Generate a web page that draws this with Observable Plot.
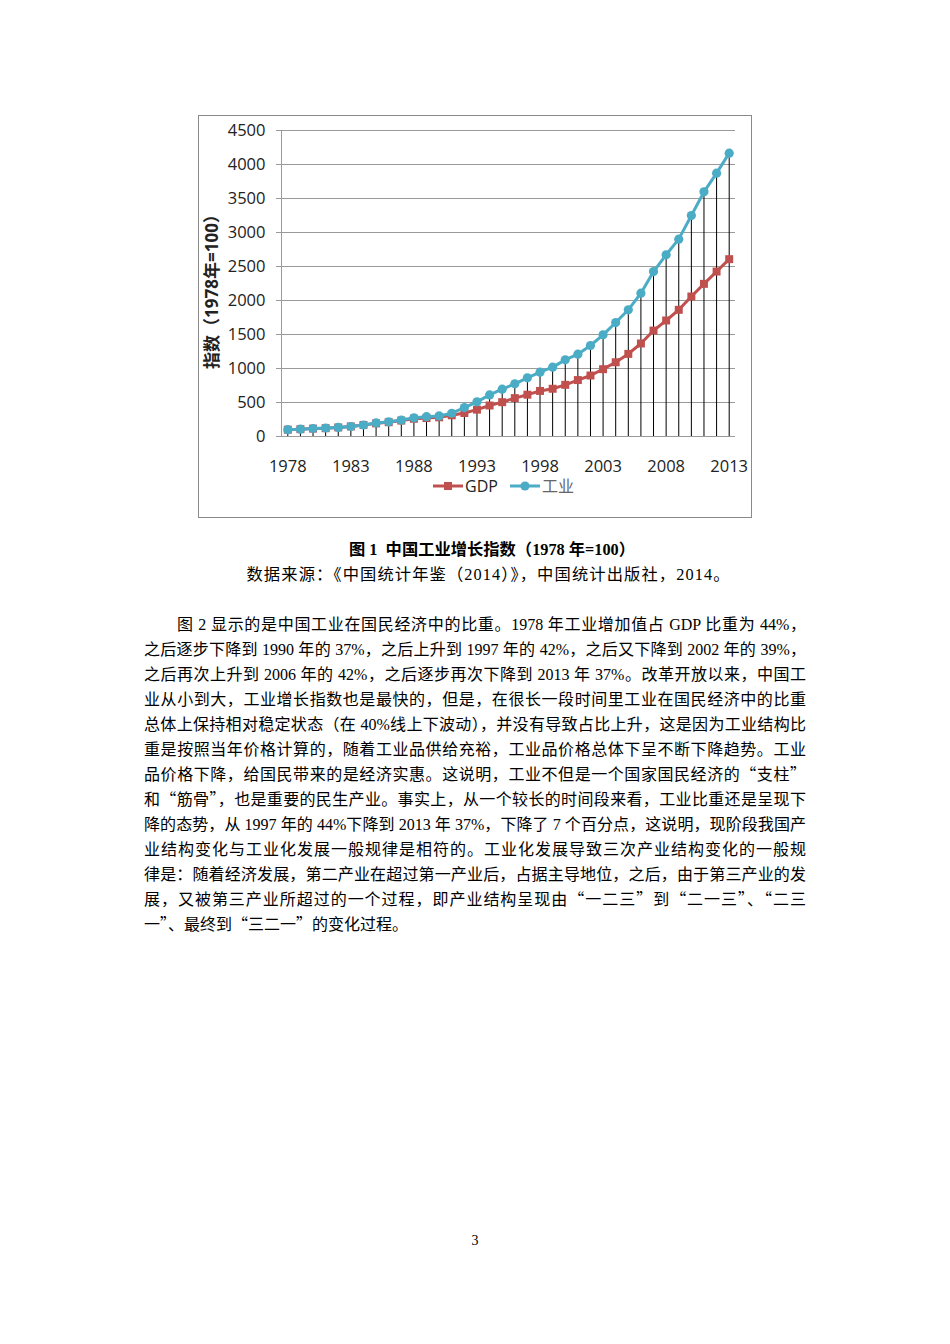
<!DOCTYPE html>
<html>
<head>
<meta charset="utf-8">
<script src="https://cdn.jsdelivr.net/npm/d3@7"></script>
<script src="https://cdn.jsdelivr.net/npm/@observablehq/plot@0.6"></script>
<style>
  html, body { margin: 0; padding: 0; background: #fff; }
  body { width: 950px; height: 1344px; position: relative; overflow: hidden; }
  .abs { position: absolute; }
  #box { left: 198px; top: 115px; width: 554px; height: 403px; box-sizing: border-box; border: 1px solid #8a8a8a; }
  #chart { left: 198px; top: 115px; width: 554px; height: 403px; }
  .leg { font-family: 'Open Sans', 'Noto Sans CJK SC', sans-serif; font-size: 16px; line-height: 16px; white-space: nowrap; }
  .cap { font-family: 'Liberation Serif', 'Noto Sans CJK SC', serif; font-size: 16.3px; line-height: 20px; white-space: nowrap; color: #000; }
  .ln { position: absolute; font-family: 'Liberation Serif', 'Noto Sans CJK SC', serif; font-size: 16px; line-height: 24px; height: 24px; white-space: nowrap; color: #000; text-align: justify; text-align-last: justify; text-justify: inter-character; overflow: visible; }
  .q { font-family: 'Noto Sans CJK SC', sans-serif; font-feature-settings: "fwid"; line-height: 0; }
</style>
</head>
<body>
<div id="box" class="abs"></div>
<div id="chart" class="abs"></div>
<div id="legend"></div>
<div id="text"></div>
<script>
// ---- data ----
const years = [1978,1979,1980,1981,1982,1983,1984,1985,1986,1987,1988,1989,1990,1991,1992,1993,1994,1995,1996,1997,1998,1999,2000,2001,2002,2003,2004,2005,2006,2007,2008,2009,2010,2011,2012,2013];
const gdp = [100,108,116,122,133,148,170,193,210,234,261,271,282,312,345,395,456,505,565,615,670,702,760,830,897,990,1092,1215,1368,1558,1706,1863,2059,2245,2426,2608];
const industry = [100,108,118,125,134,147,168,200,216,242,275,292,302,342,425,510,612,696,775,863,946,1020,1127,1211,1338,1495,1676,1863,2108,2426,2672,2902,3250,3598,3873,4167];
const yTicks = [0,500,1000,1500,2000,2500,3000,3500,4000,4500];
const xTicks = [1978,1983,1988,1993,1998,2003,2008,2013];
const seriesNames = ["GDP", "工业"];
const seriesColors = ["#c0504d", "#4bacc6"];
const yLabel = "指数（1978年=100）";
const captionTitle = "图 1  中国工业增长指数（1978 年=100）";
const captionSource = "数据来源：《中国统计年鉴（2014）》，中国统计出版社，2014。";
const paragraphLines = [
  "图 2 显示的是中国工业在国民经济中的比重。1978 年工业增加值占 GDP 比重为 44%，",
  "之后逐步下降到 1990 年的 37%，之后上升到 1997 年的 42%，之后又下降到 2002 年的 39%，",
  "之后再次上升到 2006 年的 42%，之后逐步再次下降到 2013 年 37%。改革开放以来，中国工",
  "业从小到大，工业增长指数也是最快的，但是，在很长一段时间里工业在国民经济中的比重",
  "总体上保持相对稳定状态（在 40%线上下波动），并没有导致占比上升，这是因为工业结构比",
  "重是按照当年价格计算的，随着工业品供给充裕，工业品价格总体下呈不断下降趋势。工业",
  "品价格下降，给国民带来的是经济实惠。这说明，工业不但是一个国家国民经济的“支柱”",
  "和“筋骨”，也是重要的民生产业。事实上，从一个较长的时间段来看，工业比重还是呈现下",
  "降的态势，从 1997 年的 44%下降到 2013 年 37%，下降了 7 个百分点，这说明，现阶段我国产",
  "业结构变化与工业化发展一般规律是相符的。工业化发展导致三次产业结构变化的一般规",
  "律是：随着经济发展，第二产业在超过第一产业后，占据主导地位，之后，由于第三产业的发",
  "展，又被第三产业所超过的一个过程，即产业结构呈现由“一二三”到“二一三”、“二三",
  "一”、最终到“三二一”的变化过程。"
];
const pageNumber = "3";

// ---- chart ----
const data = years.map((y, i) => ({year: y, gdp: gdp[i], ind: industry[i]}));
const chart = Plot.plot({
  width: 554,
  height: 403,
  marginLeft: 83,
  marginRight: 17,
  marginTop: 15,
  marginBottom: 82,
  style: {fontFamily: "'Open Sans', 'Noto Sans CJK SC', sans-serif", fontSize: "16.5px", color: "#222", background: "transparent", overflow: "visible"},
  x: {domain: [1977.5, 2013.5]},
  y: {domain: [0, 4500]},
  marks: [
    Plot.ruleY(yTicks, {stroke: "#9a9a9a", strokeWidth: 1}),
    Plot.ruleX([1977.5], {y1: 0, y2: 4500, stroke: "#9a9a9a", strokeWidth: 1}),
    Plot.axisY({ticks: yTicks, tickSize: 5, tickPadding: 11, stroke: "#9a9a9a", strokeOpacity: 1, fill: "#222", tickFormat: d => String(d), label: null}),
    Plot.axisX({ticks: xTicks, tickSize: 0, tickPadding: 24, fill: "#222", tickFormat: d => String(d), label: null}),
    Plot.ruleX(data, {x: "year", y1: 0, y2: d => Math.max(d.gdp, d.ind), stroke: "#000", strokeWidth: 1}),
    Plot.line(data, {x: "year", y: "gdp", stroke: seriesColors[0], strokeWidth: 3}),
    Plot.dot(data, {x: "year", y: "gdp", symbol: "square", r: 4.5, fill: seriesColors[0]}),
    Plot.line(data, {x: "year", y: "ind", stroke: seriesColors[1], strokeWidth: 3}),
    Plot.dot(data, {x: "year", y: "ind", r: 4.6, fill: seriesColors[1]}),
    Plot.text([yLabel], {frameAnchor: "left", textAnchor: "middle", rotate: -90, dx: -69, dy: 4, fontWeight: "bold", fontSize: 17, fill: "#222"})
  ]
});
document.getElementById("chart").appendChild(chart);

// ---- legend ----
const legend = document.getElementById("legend");
const legendItems = [
  {name: seriesNames[0], color: seriesColors[0], sym: "square", left: 432, textColor: "#222"},
  {name: seriesNames[1], color: seriesColors[1], sym: "circle", left: 509, textColor: "#666"}
];
legendItems.forEach(it => {
  const sw = document.createElementNS("http://www.w3.org/2000/svg", "svg");
  sw.setAttribute("width", 32); sw.setAttribute("height", 14);
  sw.style.position = "absolute"; sw.style.left = it.left + "px"; sw.style.top = "479px";
  sw.innerHTML = `<line x1="1" y1="7" x2="31" y2="7" stroke="${it.color}" stroke-width="3"/>` +
    (it.sym === "square" ? `<rect x="12" y="3" width="8" height="8" fill="${it.color}"/>` : `<circle cx="16" cy="7" r="4.6" fill="${it.color}"/>`);
  legend.appendChild(sw);
  const t = document.createElement("div");
  t.className = "abs leg"; t.textContent = it.name;
  t.style.left = (it.left + 33) + "px"; t.style.top = "478px"; t.style.color = it.textColor;
  legend.appendChild(t);
});

// ---- captions & text ----
const txt = document.getElementById("text");
function addDiv(cls, text, css, quotes) {
  const d = document.createElement("div");
  d.className = cls;
  if (quotes) {
    text.split(/([“”])/).forEach(part => {
      if (part === "“" || part === "”") {
        const s = document.createElement("span"); s.className = "q"; s.textContent = part; d.appendChild(s);
      } else if (part) d.appendChild(document.createTextNode(part));
    });
  } else d.textContent = text;
  Object.assign(d.style, css);
  txt.appendChild(d);
  return d;
}
addDiv("abs cap", captionTitle, {left: "0px", width: "984px", textAlign: "center", top: "540px", fontWeight: "bold", whiteSpace: "pre"});
addDiv("abs cap", captionSource, {left: "0px", width: "977px", textAlign: "center", top: "565px", letterSpacing: "1.1px"});
paragraphLines.forEach((line, i) => {
  const last = i === paragraphLines.length - 1;
  const css = {top: (613 + i * 25) + "px"};
  if (i === 0) { css.left = "177px"; css.width = "629px"; }
  else { css.left = "144px"; css.width = "662px"; }
  if (last) { css.textAlign = "left"; css.textAlignLast = "left"; css.width = "auto"; }
  addDiv("ln", line, css, true);
});
addDiv("abs cap", pageNumber, {left: "0px", width: "950px", textAlign: "center", top: "1231px", fontSize: "14px"});
</script>
</body>
</html>
